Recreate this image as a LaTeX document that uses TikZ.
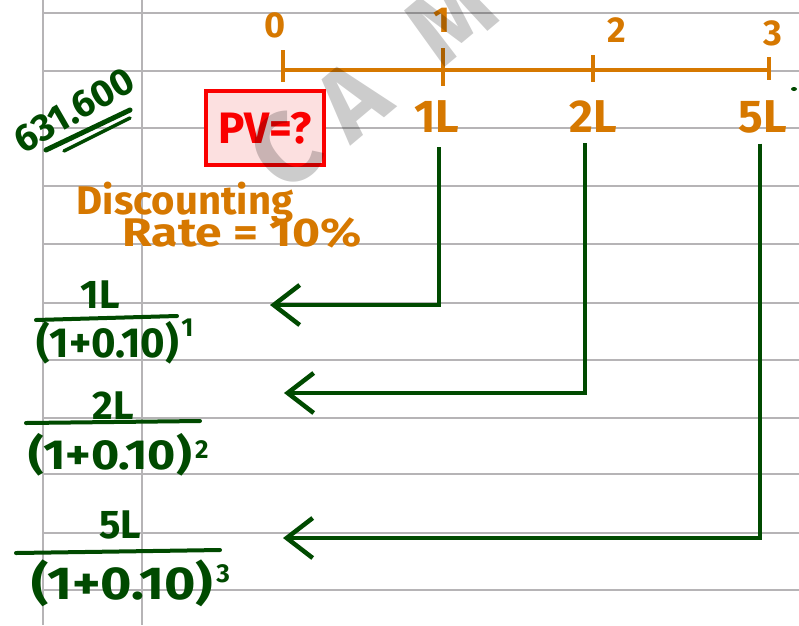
\documentclass[tikz,border=0pt]{standalone}
\usepackage{fontspec}
\newfontfamily\hand{Fira Sans}
\usetikzlibrary{arrows.meta}
\definecolor{inkorange}{RGB}{214,120,0}
\definecolor{inkgreen}{RGB}{0,74,0}
\definecolor{inkred}{RGB}{250,0,0}
\definecolor{boxpink}{RGB}{252,224,224}
\definecolor{ruleline}{RGB}{182,180,182}
\newcommand{\fs}[1]{\fontsize{#1}{#1}\selectfont}
\tikzset{
  paper/.style={draw=ruleline, line width=2pt},
  tline/.style={draw=inkorange, line width=4pt},
  tlabel/.style={text=inkorange, font=\hand\bfseries\fs{36}, inner sep=0pt},
  amount/.style={text=inkorange, font=\hand\bfseries\fs{46}, inner sep=0pt},
  note/.style={text=inkorange, font=\hand\bfseries\fs{40}, inner sep=0pt},
  pvbox/.style={draw=inkred, fill=boxpink, line width=4.5pt, text=inkred,
    font=\hand\bfseries\fs{44}, minimum width=118pt, minimum height=74pt, inner sep=0pt},
  gtext/.style={text=inkgreen, font=\hand\bfseries\fs{42}, inner sep=0pt},
  gnum/.style={text=inkgreen, font=\hand\bfseries\fs{40}, inner sep=0pt},
  gsup/.style={text=inkgreen, font=\hand\bfseries\fs{26}, inner sep=0pt},
  gbar/.style={draw=inkgreen, line width=4pt, line cap=round},
  flow/.style={draw=inkgreen, line width=4.5pt,
    -{Straight Barb[length=26pt,width=40pt,line width=4.5pt]}},
  wmark/.style={text=black, text opacity=0.2, font=\hand\bfseries\fs{100}, inner sep=0pt, rotate=40}
}
\begin{document}
\begin{tikzpicture}[x=1pt,y=-1pt]
\useasboundingbox (0,0) rectangle (799,625);
\fill[white] (0,0) rectangle (799,625);
\begin{scope}
\clip (0,0) rectangle (799,625);
% ruled paper
\foreach \y in {13,71,128,186,244,303,360,418,474,533,590}
  \draw[paper] (43,\y) -- (799,\y);
\draw[paper] (43,0) -- (43,625);
\draw[paper] (142,0) -- (142,625);

% time line with ticks
\draw[tline] (283,70) -- (770,70);
\draw[tline] (283,50) -- (283,82);
\draw[tline] (443,48) -- (443,86);
\draw[tline] (593,55) -- (593,82);
\draw[tline] (769,57) -- (769,80);
\node[tlabel] (y0) at (275,25) {0};
\node[tlabel] (y1) at (442,20) {1};
\node[tlabel] (y2) at (617,30) {2};
\node[tlabel] (y3) at (773,33) {3};

% cash flows
\node[amount] (c1) at (437,117) {1L};
\node[amount] (c2) at (593,117) {2L};
\node[amount] (c3) at (763,117) {5L};
\fill[inkgreen] (794,89) ellipse (3pt and 2pt);

% present value
\node[pvbox] (pv) at (265,128) {PV=?};

% rate
\node[note] (disc) at (185,203) {Discounting};
\node[note, xscale=1.2] (rate) at (242,233) {Rate = 10\%};

% sum
\node[text=inkgreen, font=\hand\bfseries\fs{38}, inner sep=0pt, rotate=30] (sum) at (74,110) {631.600};
\draw[gbar, line width=5pt] (46,150) -- (130,110);
\draw[gbar, line width=3.5pt] (64,151) -- (130,118);

% discounted terms
\node[gnum] (n1) at (100,295) {1L};
\draw[gbar] (36,320) -- (177,316);
\node[gtext] (d1) at (108,343) {(1+0.10)};
\node[gsup, anchor=south west] (e1) at ([xshift=2pt,yshift=6pt]d1.east) {1};

\node[gnum] (n2) at (113,406) {2L};
\draw[gbar] (26,423) -- (200,421);
\node[gtext, xscale=1.15] (d2) at (110,455) {(1+0.10)};
\node[gsup, anchor=south west] (e2) at ([xshift=3pt,yshift=-4pt]d2.east) {2};

\node[gnum] (n3) at (120,525) {5L};
\draw[gbar] (16,553) -- (220,550);
\node[gtext, xscale=1.28, yscale=1.1] (d3) at (122,583) {(1+0.10)};
\node[gsup, anchor=south west] (e3) at ([xshift=3pt,yshift=0pt]d3.east) {3};

% arrows back to year 0
\coordinate (t1) at (270,305);
\coordinate (t2) at (284,393);
\coordinate (t3) at (283,538);
\draw[flow] ([xshift=2pt,yshift=-14pt]c1.south) |- (t1);
\draw[flow] ([xshift=-8pt,yshift=-10pt]c2.south) |- (t2);
\draw[flow] ([xshift=-3pt,yshift=-10pt]c3.south) |- (t3);

% watermark
\node[wmark] (wc) at (285,150) {C};
\node[wmark] (wa) at (352,100) {A};
\node[wmark] (wm) at (450,18) {M};
\end{scope}
\end{tikzpicture}
\end{document}
